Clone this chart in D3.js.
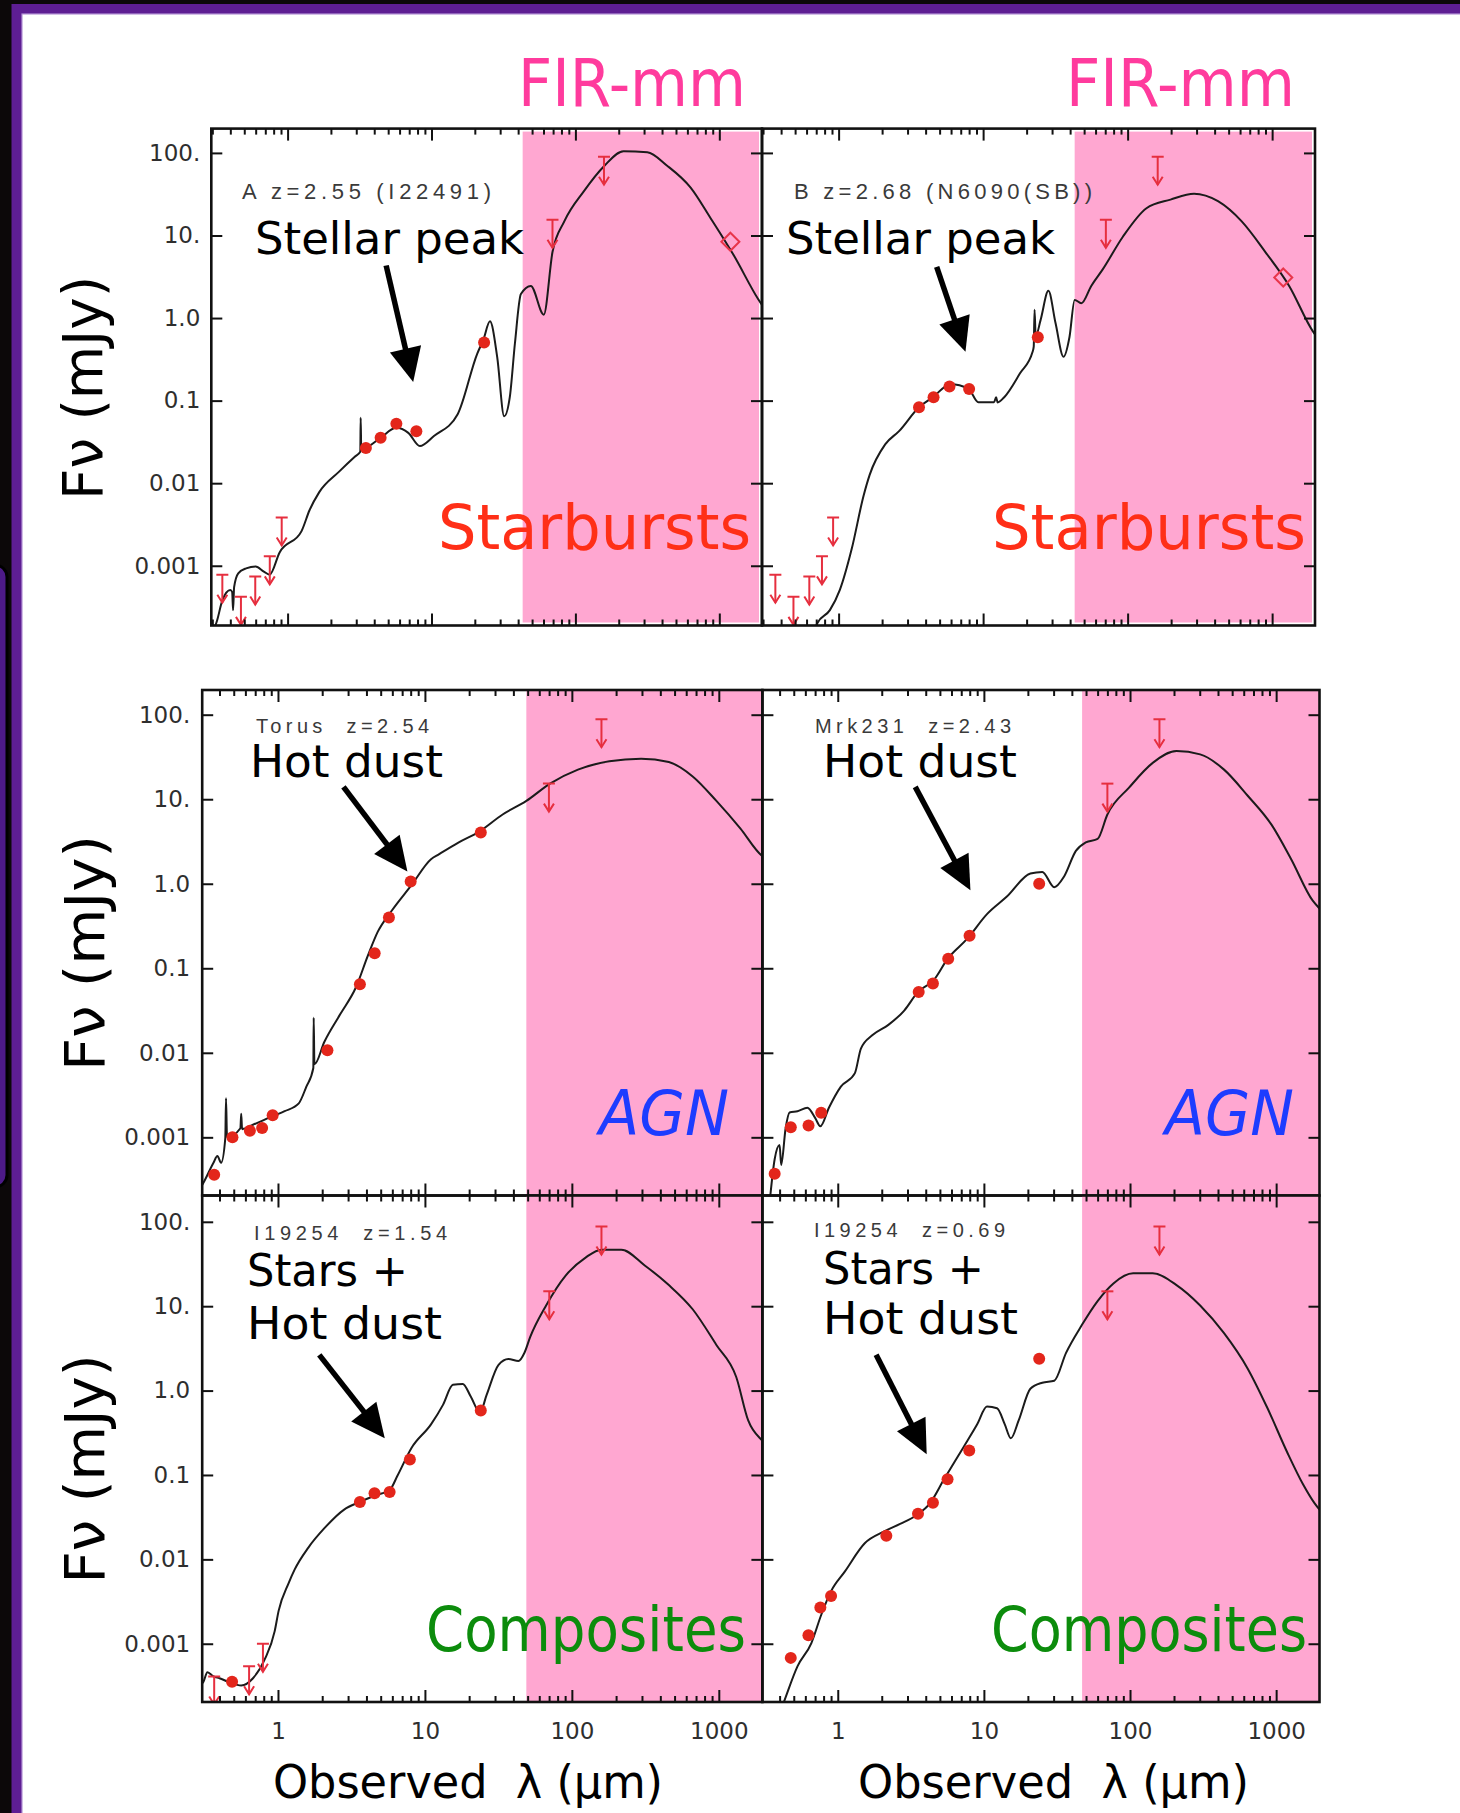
<!DOCTYPE html>
<html>
<head>
<meta charset="utf-8">
<script src="https://cdn.jsdelivr.net/npm/d3@7/dist/d3.min.js"></script>
<style>
  html, body { margin: 0; padding: 0; background: #0c0809; }
  svg { display: block; }
  text { white-space: pre; }
</style>
</head>
<body>
<svg id="chart" width="1460" height="1813"></svg>
<script>
// ---- data: [wavelength (um), flux (mJy)] ----
const sbA_sed = [[0.30,1.5e-4],[0.324,2.19e-4],[0.352,3.8e-4],[0.40,5.07e-4],[0.412,4.8e-4],[0.418,2.9e-4],[0.425,5.5e-4],[0.454,8.1e-4],[0.515,9.3e-4],[0.60,9.8e-4],[0.684,8.5e-4],[0.75,7.8e-4],[0.88,1.45e-3],[1.25,2.63e-3],[1.42,4.7e-3],[1.66,7.8e-3],[2.28,0.0138],[2.93,0.0209],[3.2,0.024],[3.22,0.062],[3.25,0.025],[3.5,0.0266],[4.43,0.0355],[5.7,0.0468],[6.9,0.0407],[8.3,0.0282],[10.4,0.0372],[15.2,0.0684],[20.8,0.372],[22.9,0.543],[25.5,0.912],[28.6,0.339],[32,0.0646],[35,0.11],[38,0.495],[41.8,1.95],[49,2.45],[60.3,1.10],[69.3,6.3],[83.7,14.8],[115,34.7],[158,69],[216,105],[316,102],[434,70],[632,38],[870,16.2],[1260,5.75],[1860,1.70],[2000,1.4]];
const sbA_phot = [[3.5,0.0266],[4.43,0.0355],[5.7,0.0525],[7.85,0.0427],[23.2,0.505]];
const sbA_ulim = [[0.352,7.8e-4],[0.474,4.2e-4],[0.596,7.4e-4],[0.752,1.3e-3],[0.91,3.85e-3],[69.3,15.5],[158,90]];
const sbA_submm = [[1194,8.4]];

const sbB_sed = [[0.69,1.7e-4],[0.71,2.0e-4],[0.87,2.9e-4],[1.02,5.1e-4],[1.23,1.58e-3],[1.49,7.1e-3],[1.64,0.0126],[2.1,0.0295],[2.62,0.0427],[3.6,0.083],[4.49,0.11],[5.96,0.158],[7.9,0.14],[9.27,0.0955],[11.9,0.0955],[12.3,0.11],[12.6,0.095],[14,0.11],[18,0.214],[22,0.39],[22.4,0.45],[22.7,1.26],[23.1,0.6],[25,0.95],[28.3,2.14],[31.7,0.87],[36,0.34],[39.6,0.59],[43,1.66],[47.8,1.51],[56,2.45],[67.6,3.94],[92.7,9.66],[135,21.4],[198,27.2],[288,32],[422,26],[616,14.8],[898,6.3],[1312,2.45],[1915,0.69],[2000,0.62]];
const sbB_phot = [[3.6,0.083],[4.54,0.11],[5.85,0.148],[8.0,0.138],[23.9,0.586]];
const sbB_ulim = [[0.365,7.8e-4],[0.487,4.2e-4],[0.627,7.4e-4],[0.767,1.3e-3],[0.916,3.85e-3],[70.7,15.5],[161.5,90]];
const sbB_submm = [[1194,3.1]];

const torus_sed = [[0.30,2.6e-4],[0.311,2.9e-4],[0.364,5.0e-4],[0.387,6.0e-4],[0.41,5.0e-4],[0.438,9.8e-4],[0.443,2.9e-3],[0.45,1.0e-3],[0.555,1.28e-3],[0.562,1.9e-3],[0.57,1.25e-3],[0.676,1.41e-3],[0.92,1.78e-3],[1.11,2.04e-3],[1.38,2.5e-3],[1.56,3.98e-3],[1.74,6.6e-3],[1.75,0.026],[1.77,7.3e-3],[2.07,0.0135],[2.65,0.0285],[3.4,0.060],[4.09,0.141],[4.78,0.271],[5.94,0.479],[8.1,0.962],[11.0,1.95],[12.5,2.24],[17,3.09],[23.3,4.12],[33.8,6.6],[49,9.55],[71,15.3],[110,22.4],[180,28.2],[296,30.2],[457,27.5],[664,18.6],[963,9.55],[1400,4.52],[1970,2.14],[2000,2.1]];
const torus_phot = [[0.368,3.6e-4],[0.49,1.0e-3],[0.644,1.2e-3],[0.78,1.29e-3],[0.92,1.82e-3],[2.17,0.0107],[3.61,0.0646],[4.55,0.151],[5.69,0.40],[8.0,1.06],[24,4.04]];
const torus_ulim = [[69.8,15.3],[159,88.5]];

const mrk_sed = [[0.343,1.8e-4],[0.37,5.5e-4],[0.40,8.1e-4],[0.41,4.7e-4],[0.44,1.29e-3],[0.468,1.97e-3],[0.53,2.04e-3],[0.62,2.24e-3],[0.70,1.7e-3],[0.76,1.35e-3],[0.87,2.24e-3],[1.05,3.98e-3],[1.31,5.75e-3],[1.44,0.0112],[1.73,0.0162],[2.22,0.0214],[2.85,0.0316],[3.54,0.0525],[4.54,0.0724],[5.64,0.129],[7.7,0.224],[10.5,0.437],[14.3,0.70],[20.8,1.32],[25.1,1.38],[30.3,0.91],[35.4,1.22],[42.6,2.45],[49.8,3.09],[60,3.39],[70,6.6],[98.8,13.8],[143,26.9],[208,37.2],[302,33.9],[440,22.4],[639,11.0],[929,5.0],[1267,1.95],[1780,0.63],[2000,0.5]];
const mrk_phot = [[0.37,3.7e-4],[0.477,1.32e-3],[0.631,1.38e-3],[0.77,1.95e-3],[3.58,0.0525],[4.48,0.066],[5.7,0.13],[7.98,0.242],[23.9,1.0]];
const mrk_ulim = [[70,15.3],[159,88.5]];

const compHi_sed = [[0.30,3.3e-4],[0.31,3.5e-4],[0.331,4.6e-4],[0.364,4.1e-4],[0.40,3.9e-4],[0.466,3.5e-4],[0.562,3.2e-4],[0.676,3.9e-4],[0.815,6.6e-4],[0.95,1.41e-3],[1.01,2.45e-3],[1.18,5.2e-3],[1.30,7.6e-3],[1.61,0.0138],[2.07,0.0234],[2.82,0.0389],[3.61,0.0479],[4.63,0.0575],[5.75,0.066],[6.5,0.0977],[8.1,0.209],[11.0,0.398],[13.3,0.682],[15.5,1.17],[18.1,1.20],[20.5,0.85],[23.7,0.55],[26.3,0.89],[31.7,2.02],[37,2.37],[43.3,2.24],[47.5,2.79],[52,4.3],[66.8,10.2],[91,23.2],[124,37.7],[159,46.8],[217,46.8],[315,30.2],[457,17.8],[664,9.2],[963,3.47],[1314,1.45],[1585,0.443],[1970,0.257],[2000,0.25]];
const compHi_phot = [[0.487,3.55e-4],[3.61,0.0479],[4.54,0.0608],[5.75,0.063],[7.9,0.153],[24,0.58]];
const compHi_ulim = [[0.368,4.1e-4],[0.636,5.4e-4],[0.79,1.0e-3],[70.2,15.0],[159,87.9]];

const compLo_sed = [[0.40,1.5e-4],[0.426,2.0e-4],[0.53,5.4e-4],[0.66,1.02e-3],[0.77,2.19e-3],[0.90,4.2e-3],[1.12,7.2e-3],[1.53,0.0155],[2.08,0.0214],[2.67,0.0263],[3.43,0.0331],[4.26,0.0457],[5.3,0.087],[7.2,0.209],[9.0,0.398],[10.5,0.646],[12.3,0.617],[13.9,0.398],[15.3,0.272],[17.3,0.443],[20.8,1.05],[25.1,1.24],[30.3,1.31],[36.5,2.8],[46.8,5.97],[60,11.5],[77,18.6],[105,24.5],[143,24.5],[208,17.8],[302,10.2],[440,4.79],[639,1.82],[873,0.617],[1190,0.186],[1527,0.0776],[1840,0.0457],[2000,0.038]];
const compLo_phot = [[0.477,6.8e-4],[0.63,1.26e-3],[0.76,2.69e-3],[0.90,3.67e-3],[2.15,0.019],[3.54,0.0347],[4.48,0.0468],[5.64,0.089],[7.94,0.195],[23.9,2.38]];
const compLo_ulim = [[70,15.0],[159,87.9]];

const yTickValues = [0.001, 0.01, 0.1, 1, 10, 100];
const yTickLabels = ['0.001', '0.01', '0.1', '1.0', '10.', '100.'];
const xTickValues = [1, 10, 100, 1000];

// ---- layout ----
const rows = [
  {x0: 211.3, xm: 762, x1: 1315, y0: 128.6, y1: 625.5, xdom: [0.295, 1980], ydom: [1.89e-4, 197]},
  {x0: 202.2, xm: 762.4, x1: 1319.5, y0: 690, y1: 1195.5, xdom: [0.305, 1980], ydom: [2.05e-4, 196]},
  {x0: 202.2, xm: 762.4, x1: 1319.5, y0: 1195.5, y1: 1702, xdom: [0.305, 1980], ydom: [2.04e-4, 205]}
];

const panels = [
  {row: 0, col: 0, sed: sbA_sed, phot: sbA_phot, ulim: sbA_ulim, submm: sbA_submm, fir: 43,
   arrow: [[4.84, 4.33], [7.46, 0.168]]},
  {row: 0, col: 1, sed: sbB_sed, phot: sbB_phot, ulim: sbB_ulim, submm: sbB_submm, fir: 43,
   arrow: [[4.77, 4.16], [7.55, 0.392]]},
  {row: 1, col: 0, sed: torus_sed, phot: torus_phot, ulim: torus_ulim, submm: [], fir: 49,
   arrow: [[2.79, 14.0], [7.6, 1.40]]},
  {row: 1, col: 1, sed: mrk_sed, phot: mrk_phot, ulim: mrk_ulim, submm: [], fir: 47,
   arrow: [[3.39, 14.0], [8.09, 0.835]]},
  {row: 2, col: 0, sed: compHi_sed, phot: compHi_phot, ulim: compHi_ulim, submm: [], fir: 49,
   arrow: [[1.91, 2.65], [5.33, 0.272]]},
  {row: 2, col: 1, sed: compLo_sed, phot: compLo_phot, ulim: compLo_ulim, submm: [], fir: 47,
   arrow: [[1.83, 2.65], [4.06, 0.176]]}
];

const hand = '"Comic Sans MS", "DejaVu Sans", sans-serif';
const plain = '"DejaVu Sans", sans-serif';
const red = '#e3261b';
const limRed = '#e62f3f';

let svg = d3.select('#chart');

// slide background and frame
svg.append('rect').attr('width', 1460).attr('height', 1813).attr('fill', '#0c0809');
svg.append('rect').attr('x', -20).attr('y', 565).attr('width', 27).attr('height', 622).attr('rx', 12)
    .attr('fill', '#4d1a88').attr('stroke', '#000').attr('stroke-width', 3);
svg.append('rect').attr('x', 11.5).attr('y', 4).attr('width', 1460).attr('height', 1820).attr('fill', '#5e1e93');
svg.append('rect').attr('x', 22).attr('y', 14).attr('width', 1460).attr('height', 1820)
    .attr('fill', '#fff').attr('stroke', '#b493d6').attr('stroke-width', 1.2);

function styleAxis(g) {
    g.select('.domain').remove();
    g.selectAll('line').attr('stroke', '#111').attr('stroke-width', 2);
    g.attr('font-family', plain).attr('font-size', 23);
    g.selectAll('text').attr('fill', '#2e2e2e');
}

function drawArrow(g, x1, y1, x2, y2) {
    let dx = x2 - x1, dy = y2 - y1, len = Math.hypot(dx, dy);
    let ux = dx / len, uy = dy / len;
    let hl = 34, hw = 16;
    let bx = x2 - ux * hl, by = y2 - uy * hl;
    g.append('line').attr('x1', x1).attr('y1', y1).attr('x2', bx + ux * 3).attr('y2', by + uy * 3)
        .attr('stroke', '#000').attr('stroke-width', 5.5);
    g.append('path')
        .attr('d', `M${x2},${y2}L${bx - uy * hw},${by + ux * hw}L${bx + uy * hw},${by - ux * hw}Z`)
        .attr('fill', '#000');
}

panels.forEach((p, i) => {
    let r = rows[p.row];
    let left = p.col === 0 ? r.x0 : r.xm;
    let right = p.col === 0 ? r.xm : r.x1;
    let x = d3.scaleLog().domain(r.xdom).range([left, right]);
    let y = d3.scaleLog().domain(r.ydom).range([r.y1, r.y0]);

    svg.append('clipPath').attr('id', 'clip' + i)
        .append('rect').attr('x', left).attr('y', r.y0).attr('width', right - left).attr('height', r.y1 - r.y0);

    let g = svg.append('g');
    let inset = p.row === 0 ? 3 : 0;
    g.append('rect')
        .attr('x', x(p.fir)).attr('y', r.y0 + inset)
        .attr('width', right - x(p.fir) - inset).attr('height', r.y1 - r.y0 - 2 * inset)
        .attr('fill', '#ffa7d1');

    let plot = g.append('g').attr('clip-path', `url(#clip${i})`);

    let line = d3.line().curve(d3.curveMonotoneX).x(d => x(d[0])).y(d => y(d[1]));
    plot.append('path').datum(p.sed).attr('d', line)
        .attr('fill', 'none').attr('stroke', '#1b1b1b').attr('stroke-width', 2).attr('stroke-linejoin', 'round');

    // upper limits
    let lim = plot.selectAll('.ulim').data(p.ulim).enter().append('g').attr('class', 'ulim')
        .attr('transform', d => `translate(${x(d[0])},${y(d[1])})`)
        .attr('fill', 'none').attr('stroke', limRed).attr('stroke-width', 2);
    lim.append('line').attr('x1', -6).attr('x2', 6).attr('y1', 0).attr('y2', 0);
    lim.append('line').attr('x1', 0).attr('x2', 0).attr('y1', 0).attr('y2', 28);
    lim.append('path').attr('d', 'M-5,20L0,28L5,20');

    // detections
    plot.selectAll('.phot').data(p.phot).enter().append('circle').attr('class', 'phot')
        .attr('cx', d => x(d[0])).attr('cy', d => y(d[1])).attr('r', 6).attr('fill', red);

    // sub-mm diamonds
    plot.selectAll('.submm').data(p.submm).enter().append('path').attr('class', 'submm')
        .attr('transform', d => `translate(${x(d[0])},${y(d[1])})`)
        .attr('d', 'M0,-9L9,0L0,9L-9,0Z')
        .attr('fill', 'none').attr('stroke', '#e8354a').attr('stroke-width', 2);

    // axes
    let allX = x.ticks();
    let majX = allX.filter(d => Math.abs(Math.log10(d) - Math.round(Math.log10(d))) < 1e-9);
    let minX = allX.filter(d => !majX.includes(d));

    [[d3.axisTop, r.y0], [d3.axisBottom, r.y1]].forEach(([ax, yy]) => {
        g.append('g').attr('transform', `translate(0,${yy})`)
            .call(ax(x).tickValues(majX).tickSize(-12).tickFormat('')).call(styleAxis);
        g.append('g').attr('transform', `translate(0,${yy})`)
            .call(ax(x).tickValues(minX).tickSize(-6).tickFormat('')).call(styleAxis);
    });

    if (p.row === 2) {
        g.append('g').attr('transform', `translate(0,${r.y1})`)
            .call(d3.axisBottom(x).tickValues(xTickValues).tickSize(0).tickPadding(21).tickFormat(d3.format('d')))
            .call(styleAxis);
    }

    g.append('g').attr('transform', `translate(${left},0)`)
        .call(d3.axisLeft(y).tickValues(yTickValues).tickSize(-11).tickPadding(p.row === 0 ? 11 : 12)
            .tickFormat((d, k) => p.col === 0 ? yTickLabels[k] : ''))
        .call(styleAxis);
    g.append('g').attr('transform', `translate(${right},0)`)
        .call(d3.axisRight(y).tickValues(yTickValues).tickSize(-11).tickFormat(''))
        .call(styleAxis);

    g.append('rect').attr('x', left).attr('y', r.y0).attr('width', right - left).attr('height', r.y1 - r.y0)
        .attr('fill', 'none').attr('stroke', '#111').attr('stroke-width', 2.6);

    drawArrow(g, x(p.arrow[0][0]), y(p.arrow[0][1]), x(p.arrow[1][0]), y(p.arrow[1][1]));
});

// ---- texts ----
function addText(t, x, y, size, fill, width, opts = {}) {
    let el = svg.append('text').attr('x', x).attr('y', y)
        .attr('font-family', opts.family || hand).attr('font-size', size).attr('fill', fill)
        .text(t);
    if (width) el.attr('textLength', width).attr('lengthAdjust', opts.adjust || 'spacingAndGlyphs');
    if (opts.italic) el.attr('font-style', 'italic');
    if (opts.rotate) el.attr('transform', `rotate(-90,${x},${y})`).attr('text-anchor', 'middle');
    return el;
}

addText('FIR-mm', 518, 106, 66, '#ff3b9d', 228);
addText('FIR-mm', 1066, 106, 66, '#ff3b9d', 229);
addText('Starbursts', 438, 549, 62, '#ff2f17', 313);
addText('Starbursts', 992, 549, 62, '#ff2f17', 314);
addText('AGN', 599, 1135, 62, '#1d3cff', 130, {italic: true});
addText('AGN', 1165, 1135, 62, '#1d3cff', 129, {italic: true});
addText('Composites', 426, 1651, 62, '#0c8c0c', 320);
addText('Composites', 991, 1651, 62, '#0c8c0c', 316);

addText('Stellar peak', 255, 254, 44, '#000', 269);
addText('Stellar peak', 786, 254, 44, '#000', 269);
addText('Hot dust', 250, 777, 44, '#000', 193);
addText('Hot dust', 823, 777, 44, '#000', 194);
addText('Stars +', 247, 1286, 44, '#000', 161);
addText('Hot dust', 247, 1339, 44, '#000', 195);
addText('Stars +', 823, 1284, 44, '#000', 161);
addText('Hot dust', 823, 1334, 44, '#000', 195);

let small = {family: '"Liberation Sans", Arial, sans-serif', adjust: 'spacing'};
addText('A z=2.55 (I22491)', 242, 199, 22, '#3a3a3a', 249, small);
addText('B z=2.68 (N6090(SB))', 794, 199, 22, '#3a3a3a', 298, small);
addText('Torus  z=2.54', 256, 733, 20, '#3a3a3a', 173, small);
addText('Mrk231  z=2.43', 815, 733, 20, '#3a3a3a', 196, small);
addText('I19254  z=1.54', 254, 1240, 20, '#3a3a3a', 193, small);
addText('I19254  z=0.69', 814, 1237, 20, '#3a3a3a', 191, small);

addText('Observed  λ (μm)', 273, 1798, 46, '#000', 390);
addText('Observed  λ (μm)', 858, 1798, 46, '#000', 391);

addText('Fν (mJy)', 102, 388, 56, '#000', 224, {rotate: true});
addText('Fν (mJy)', 104, 953, 56, '#000', 236, {rotate: true});
addText('Fν (mJy)', 104, 1469, 56, '#000', 229, {rotate: true});
</script>
</body>
</html>
